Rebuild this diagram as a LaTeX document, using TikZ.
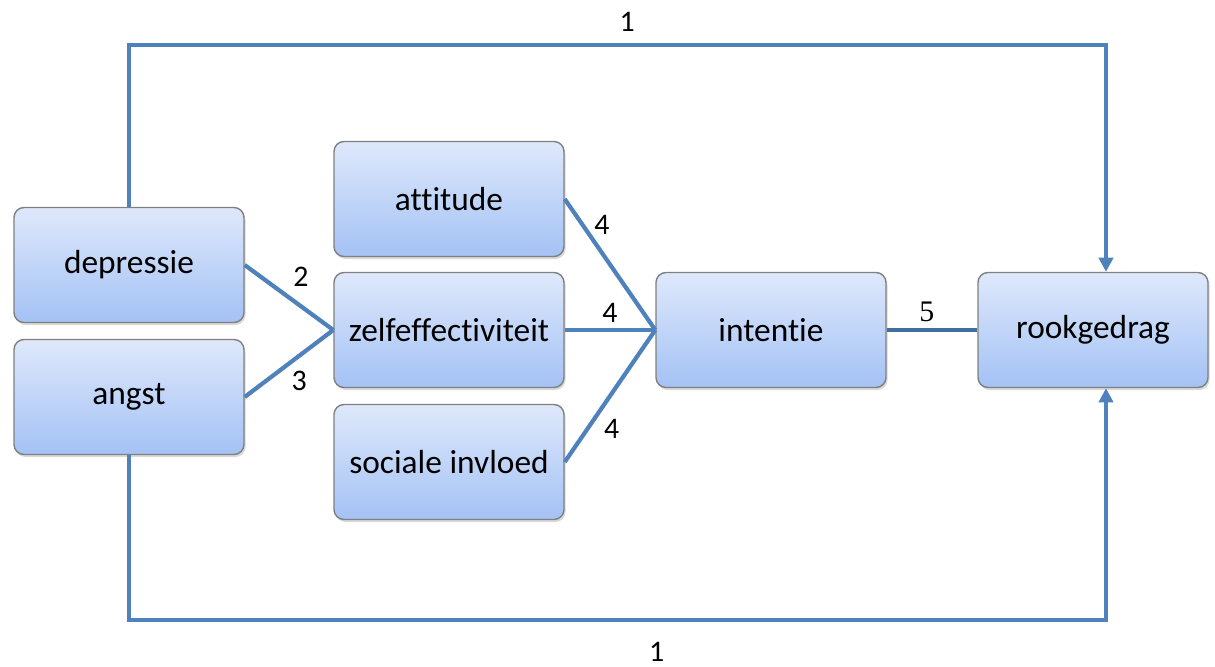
\documentclass[tikz,border=0pt]{standalone}
\usepackage{fontspec}
\setmainfont{Carlito}[Ligatures=NoCommon]
\newfontfamily\numserif{Liberation Serif}
\usepackage{tikz}
\usetikzlibrary{shapes, arrows.meta, positioning, shadows}
\definecolor{linkblue}{RGB}{79,129,189}
\definecolor{linkdark}{RGB}{66,109,160}
\definecolor{boxtop}{RGB}{222,232,251}
\definecolor{boxbottom}{RGB}{164,194,245}
\definecolor{boxline}{RGB}{128,128,128}
\tikzstyle{every node}=[font=\fontsize{17}{20}\selectfont]
\tikzstyle{block}=[draw=boxline,line width=0.8pt,rounded corners=0.2cm,top color=boxtop,bottom color=boxbottom,minimum width=4.6cm,minimum height=2.3cm,font=\fontsize{19}{23}\selectfont,drop shadow={shadow xshift=0.03cm,shadow yshift=-0.05cm,opacity=0.3}]
\tikzstyle{link}=[draw=linkblue,line width=2.4pt]

\begin{document}
\begin{tikzpicture}[node distance=2.64cm,>={Triangle[width=8pt,length=8pt]}]
    \useasboundingbox (0,0) rectangle (24.3,-13.34);
    \node[block] (depressie) at (2.58,-5.30) {depressie};
    \node[block, below of=depressie] (angst) {angst};
    \node[block] (zelf) at (8.98,-6.60) {zelfeffectiviteit};
    \node[block, above of=zelf, node distance=2.62cm] (attitude) {attitude};
    \node[block, below of=zelf] (sociaal) {sociale invloed};
    \node[block, right of=zelf, node distance=6.44cm] (intentie) {intentie};
    \node[block, right of=intentie, node distance=6.44cm] (rook) {rookgedrag};
    \coordinate (lb) at (2.58,-0.9);
    \coordinate (rb) at (22.12,-0.9);
    \coordinate (lo) at (2.58,-12.4);
    \coordinate (ro) at (22.12,-12.4);
    \draw[link] (depressie.east) -- node[pos=.5, above right=0pt, xshift=-2pt, yshift=2pt] {2} (zelf.west);
    \draw[link] (angst.east) -- node[pos=.5, below right=0pt, xshift=-3pt] {3} (zelf.west);
    \draw[link] (attitude.east) -- node[pos=.2, right=2pt] {4} (intentie.west);
    \draw[link] (zelf.east) -- node[midway, above] {4} (intentie.west);
    \draw[link] (sociaal.east) -- node[pos=.25, right=5pt] {4} (intentie.west);
    \draw[link, draw=linkdark] (intentie.east) -- node[midway, above, xshift=-3pt, font=\fontsize{17}{19}\numserif] {5} (rook.west);
    \draw[link, ->] (depressie.north) -- (lb) -- node[pos=.51, above=3pt] {1} (rb) -- (rb |- rook.north);
    \draw[link, ->] (angst.south) -- (lo) -- node[pos=.54, below=8pt] {1} (ro) -- (ro |- rook.south);
\end{tikzpicture}
\end{document}
